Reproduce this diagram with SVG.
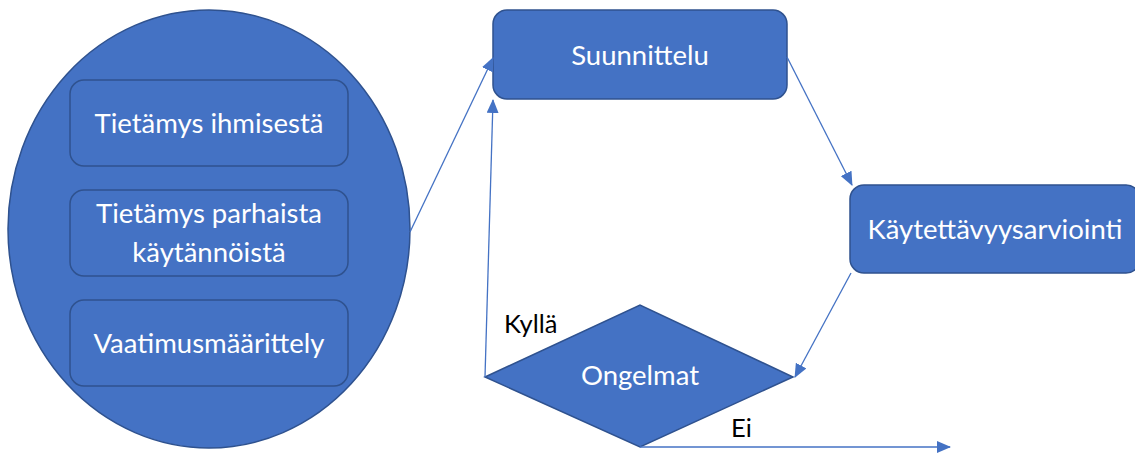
<svg xmlns="http://www.w3.org/2000/svg" width="1135" height="454" viewBox="0 0 1135 454">
  <style>
    .shape { fill: #4472C4; stroke: #2F528F; stroke-width: 1.5; }
    .inner { fill: #4472C4; stroke: #2F528F; stroke-width: 1.5; }
    .label { font-family: "Lato", "Liberation Sans", sans-serif; font-size: 27.5px; fill: #FFFFFF; text-anchor: middle; }
    .note { font-family: "Lato", "Liberation Sans", sans-serif; font-size: 25.5px; fill: #000000; }
    .conn { fill: none; stroke: #4472C4; stroke-width: 1.3; }
  </style>
  <defs>
    <marker id="arrow" markerUnits="userSpaceOnUse" markerWidth="14" markerHeight="12" refX="13" refY="6" orient="auto">
      <path d="M0,0 L14,6 L0,12 Z" fill="#4472C4"/>
    </marker>
  </defs>

  <rect width="1135" height="454" fill="#FFFFFF"/>

  <!-- knowledge sources grouped in an ellipse -->
  <g id="sources">
    <ellipse class="shape" cx="209" cy="229" rx="201" ry="219"/>
    <g id="knowledge-human">
      <rect class="inner" x="70" y="80" width="278" height="86" rx="14"/>
      <text class="label" x="209" y="133">Tietämys ihmisestä</text>
    </g>
    <g id="knowledge-practices">
      <rect class="inner" x="70" y="190" width="278" height="86" rx="14"/>
      <text class="label" x="209" y="223">Tietämys parhaista</text>
      <text class="label" x="209" y="262">käytännöistä</text>
    </g>
    <g id="requirements">
      <rect class="inner" x="70" y="300" width="278" height="86" rx="14"/>
      <text class="label" x="209" y="353">Vaatimusmäärittely</text>
    </g>
  </g>

  <g id="design">
    <rect class="shape" x="493" y="10" width="294" height="89" rx="14"/>
    <text class="label" x="640" y="65">Suunnittelu</text>
  </g>

  <g id="evaluation">
    <rect class="shape" x="850" y="185" width="290" height="88" rx="14"/>
    <text class="label" x="995" y="239">Käytettävyysarviointi</text>
  </g>

  <g id="problems">
    <polygon class="shape" points="485,377 640,305 793,377 640,447"/>
    <text class="label" x="640" y="385">Ongelmat</text>
  </g>

  <g id="connectors">
    <path class="conn" d="M410,232 L493,58" marker-end="url(#arrow)"/>
    <path class="conn" d="M485,377 L493,100" marker-end="url(#arrow)"/>
    <path class="conn" d="M787,57 L852,185" marker-end="url(#arrow)"/>
    <path class="conn" d="M851,273 L795,377" marker-end="url(#arrow)"/>
    <path class="conn" d="M640,447 L950,447" marker-end="url(#arrow)"/>
    <text class="note" x="504" y="333">Kyllä</text>
    <text class="note" x="731" y="437">Ei</text>
  </g>
</svg>
